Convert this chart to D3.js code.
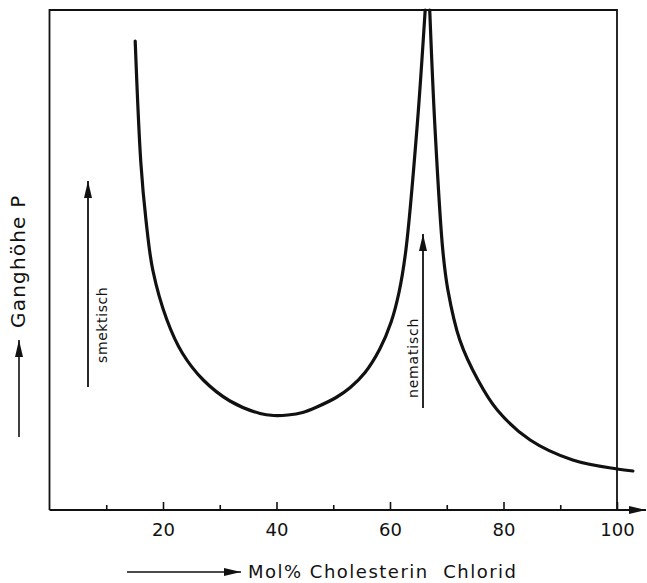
<!DOCTYPE html>
<html>
<head>
<meta charset="utf-8">
<script src="https://cdn.jsdelivr.net/npm/d3@7"></script>
<style>
  body { margin: 0; background: #fff; }
  text { font-family: "DejaVu Sans", sans-serif; fill: #111; }
</style>
</head>
<body>
<script>
// x ticks (Mol% Cholesterin Chlorid)
var majorTicks = [20, 40, 60, 80, 100];
var minorTicks = [10, 30, 50, 70, 90];

// left branch (smektisch side), P in arbitrary units 0..100
var leftX = [15.1, 16.1, 17.0, 18.2, 20.7, 23.4, 27.1, 31.8, 37.1, 39.5, 42.0, 44.6, 47.1, 50.5, 53.0, 55.6, 58.2, 60.2, 61.6, 62.8, 64.8, 66.2];
var leftP = [93.8, 69.4, 58.0, 48.0, 38.0, 31.4, 26.0, 21.8, 19.3, 18.9, 19.0, 19.5, 20.6, 22.5, 24.5, 27.5, 32.2, 37.6, 43.6, 52.0, 77.0, 100];

// right branch (nematisch side)
var rightX = [67.0, 67.9, 69.3, 70.2, 72.3, 75.5, 78.9, 84.7, 92.2, 100, 102.8];
var rightP = [100, 77, 52, 44, 34, 26, 20, 14, 10, 8.2, 7.8];

var width = 647, height = 583;
// note: "top" is window.top, so use other names
var plotL = 49.5, plotR = 617, plotT = 10, plotB = 510;

var svg = d3.select("body").append("svg")
  .attr("width", width)
  .attr("height", height);

var x = d3.scaleLinear().domain([0, 100]).range([plotL, plotR]);
var y = d3.scaleLinear().domain([0, 100]).range([plotB, plotT]);

// arrowhead marker
svg.append("defs").append("marker")
  .attr("id", "head")
  .attr("viewBox", "0 0 10 10")
  .attr("refX", 10).attr("refY", 5)
  .attr("markerUnits", "userSpaceOnUse")
  .attr("markerWidth", 17).attr("markerHeight", 8)
  .attr("orient", "auto")
  .attr("preserveAspectRatio", "none")
  .append("path")
  .attr("d", "M0,0 L10,5 L0,10 Z")
  .attr("fill", "#111");

// frame: left, top, right
svg.append("path")
  .attr("d", "M" + plotL + "," + plotB + " L" + plotL + "," + plotT + " L" + plotR + "," + plotT + " L" + plotR + "," + plotB)
  .attr("fill", "none")
  .attr("stroke", "#111")
  .attr("stroke-width", 1.8);

// x axis line with arrow past 100
svg.append("line")
  .attr("x1", plotL).attr("y1", plotB)
  .attr("x2", 646).attr("y2", plotB)
  .attr("stroke", "#111")
  .attr("stroke-width", 1.8)
  .attr("marker-end", "url(#head)");

// major ticks with labels
var xAxis = svg.append("g")
  .attr("transform", "translate(0," + plotB + ")")
  .call(d3.axisBottom(x).tickValues(majorTicks).tickSize(-8).tickPadding(13));
xAxis.select(".domain").remove();
xAxis.selectAll("line").attr("stroke", "#111").attr("stroke-width", 1.6);
xAxis.selectAll("text")
  .style("font-size", "18px")
  .style("font-family", "DejaVu Sans, sans-serif")
  .attr("fill", "#111");

// minor ticks
var xMinor = svg.append("g")
  .attr("transform", "translate(0," + plotB + ")")
  .call(d3.axisBottom(x).tickValues(minorTicks).tickSize(-5).tickFormat(""));
xMinor.select(".domain").remove();
xMinor.selectAll("line").attr("stroke", "#111").attr("stroke-width", 1.6);

// curves
var line = d3.line()
  .x(function(d) { return x(d[0]); })
  .y(function(d) { return y(d[1]); })
  .curve(d3.curveCatmullRom.alpha(0.5));

var branches = [d3.zip(leftX, leftP), d3.zip(rightX, rightP)];

svg.selectAll("path.branch")
  .data(branches)
  .enter()
  .append("path")
  .attr("class", "branch")
  .attr("d", line)
  .attr("fill", "none")
  .attr("stroke", "#111")
  .attr("stroke-width", 3.2)
  .attr("stroke-linecap", "round");

// x title with arrow
svg.append("line")
  .attr("x1", 127).attr("y1", 572)
  .attr("x2", 241).attr("y2", 572)
  .attr("stroke", "#111")
  .attr("stroke-width", 1.6)
  .attr("marker-end", "url(#head)");

svg.append("text")
  .attr("x", 248).attr("y", 578)
  .style("font-size", "18px")
  .style("letter-spacing", "1.5px")
  .attr("xml:space", "preserve")
  .text("Mol% Cholesterin  Chlorid");

// y title with arrow
svg.append("line")
  .attr("x1", 19).attr("y1", 437)
  .attr("x2", 19).attr("y2", 340)
  .attr("stroke", "#111")
  .attr("stroke-width", 1.6)
  .attr("marker-end", "url(#head)");

svg.append("text")
  .attr("transform", "translate(25,328) rotate(-90)")
  .style("font-size", "20px")
  .style("letter-spacing", "1.2px")
  .text("Ganghöhe P");

// smektisch arrow + label
svg.append("line")
  .attr("x1", 88).attr("y1", 387)
  .attr("x2", 88).attr("y2", 181)
  .attr("stroke", "#111")
  .attr("stroke-width", 1.8)
  .attr("marker-end", "url(#head)");

svg.append("text")
  .attr("transform", "translate(107,363) rotate(-90)")
  .style("font-size", "14px")
  .style("letter-spacing", "0.6px")
  .text("smektisch");

// nematisch arrow + label
svg.append("line")
  .attr("x1", 423).attr("y1", 408)
  .attr("x2", 423).attr("y2", 234)
  .attr("stroke", "#111")
  .attr("stroke-width", 1.8)
  .attr("marker-end", "url(#head)");

svg.append("text")
  .attr("transform", "translate(418,398) rotate(-90)")
  .style("font-size", "14px")
  .style("letter-spacing", "0.8px")
  .text("nematisch");
</script>
</body>
</html>
